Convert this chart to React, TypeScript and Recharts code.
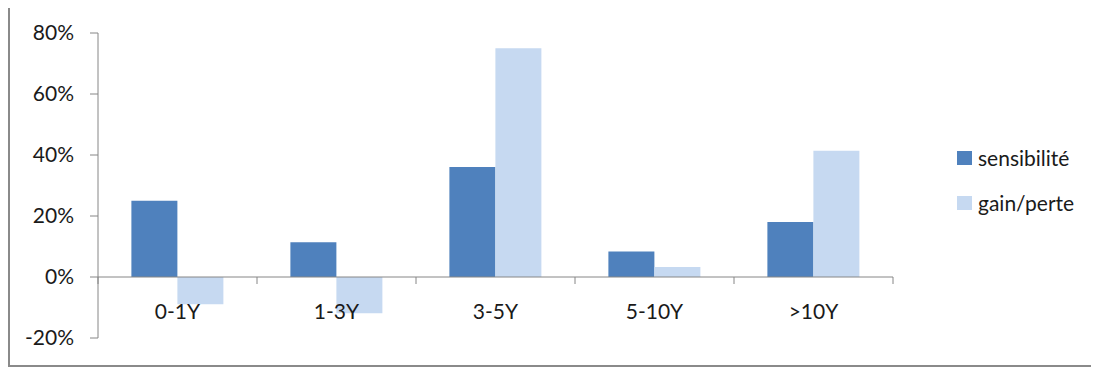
import { BarChart, Bar, XAxis, YAxis, ReferenceLine, Legend } from "recharts";

const categories = ["0-1Y", "1-3Y", "3-5Y", "5-10Y", ">10Y"];
const sensibilite = [25, 11.4, 36.1, 8.4, 18];
const gainPerte = [-8.9, -11.9, 75, 3.3, 41.4];
const yTicks = [-20, 0, 20, 40, 60, 80];

const Y_MIN = -20;
const Y_MAX = 80;
const FONT = "Lato, 'Open Sans', sans-serif";
const FONT_SIZE = 21;
const AXIS = "#868686";

const CHART_W = 1079;
const CHART_H = 359;
const MARGIN = { top: 27, right: 196, bottom: 26, left: 0 };
const Y_AXIS_W = 88;
const X_AXIS_H = 1;
const PLOT_LEFT = MARGIN.left + Y_AXIS_W;
const PLOT_W = CHART_W - PLOT_LEFT - MARGIN.right;
const PLOT_H = CHART_H - MARGIN.top - MARGIN.bottom - X_AXIS_H;
const ZERO_Y = MARGIN.top + (PLOT_H * Y_MAX) / (Y_MAX - Y_MIN);
const BAND = PLOT_W / categories.length;

const data = categories.map((c, i) => ({
  name: c,
  sensibilite: sensibilite[i],
  gain: gainPerte[i],
}));

function CategoryTick(props: any) {
  const { x, index, payload } = props;
  const last = index === categories.length - 1;
  return (
    <g>
      <line x1={x - BAND / 2} x2={x - BAND / 2} y1={ZERO_Y} y2={ZERO_Y + 7} stroke={AXIS} />
      {last && (
        <line x1={x + BAND / 2} x2={x + BAND / 2} y1={ZERO_Y} y2={ZERO_Y + 7} stroke={AXIS} />
      )}
      <text
        x={x}
        y={ZERO_Y + 33}
        textAnchor="middle"
        dominantBaseline="central"
        fontFamily={FONT}
        fontSize={FONT_SIZE}
        fill="#1a1a1a"
      >
        {payload.value}
      </text>
    </g>
  );
}

function LegendBox(props: any) {
  const order = ["sensibilité", "gain/perte"];
  const items = [...props.payload].sort(
    (a: any, b: any) => order.indexOf(a.value) - order.indexOf(b.value)
  );
  return (
    <div style={{ fontFamily: FONT, fontSize: FONT_SIZE, color: "#1a1a1a" }}>
      {items.map((p: any) => (
        <div key={p.value} style={{ display: "flex", alignItems: "center", height: 45 }}>
          <span
            style={{ width: 15, height: 14, background: p.color, marginRight: 6, display: "inline-block" }}
          />
          {p.value}
        </div>
      ))}
    </div>
  );
}

export default function App() {
  return (
    <div
      style={{
        marginTop: -4,
        width: 1091,
        height: 363,
        boxSizing: "border-box",
        borderTop: "2px solid #8a8a8a",
        borderLeft: "2px solid #8a8a8a",
        borderBottom: "2px solid #8a8a8a",
        background: "#fff",
      }}
    >
      <BarChart
        width={CHART_W}
        height={CHART_H}
        data={data}
        margin={MARGIN}
        barCategoryGap="21%"
        barGap={0}
      >
        <XAxis
          dataKey="name"
          height={X_AXIS_H}
          axisLine={false}
          tickLine={false}
          tick={<CategoryTick />}
          interval={0}
        />
        <YAxis
          width={Y_AXIS_W}
          domain={[Y_MIN, Y_MAX]}
          ticks={yTicks}
          interval={0}
          tickFormatter={(v: number) => `${v}%`}
          axisLine={{ stroke: AXIS }}
          tickLine={{ stroke: AXIS }}
          tickSize={8}
          tickMargin={16}
          tick={{ fontFamily: FONT, fontSize: FONT_SIZE, fill: "#1a1a1a" }}
        />
        <ReferenceLine y={0} stroke={AXIS} />
        <Bar dataKey="sensibilite" name="sensibilité" fill="#4F81BD" isAnimationActive={false} />
        <Bar dataKey="gain" name="gain/perte" fill="#C6D9F1" isAnimationActive={false} />
        <Legend
          layout="vertical"
          align="center"
          verticalAlign="middle"
          content={<LegendBox />}
          wrapperStyle={{ left: 947, top: 129, width: 132 }}
        />
      </BarChart>
    </div>
  );
}
